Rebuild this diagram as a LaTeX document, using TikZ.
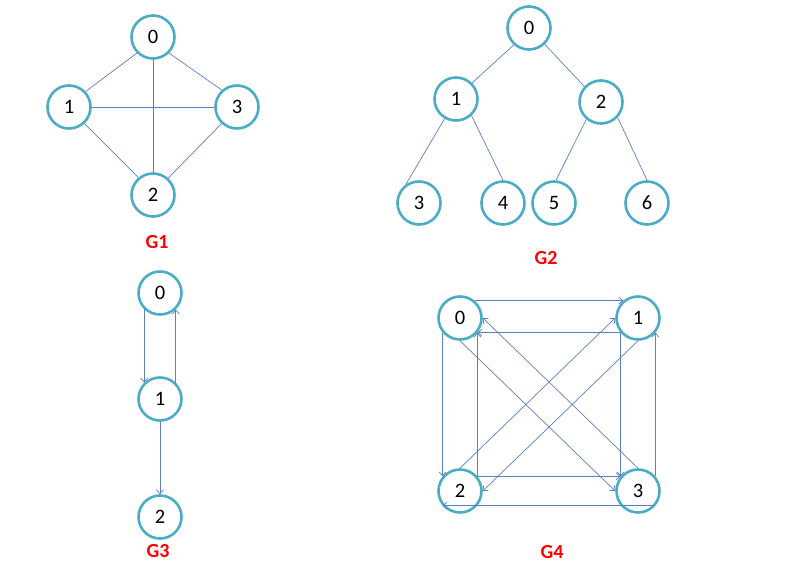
\documentclass[tikz,border=0pt]{standalone}
\usepackage{fontspec}
\setmainfont{Carlito}
\usetikzlibrary{arrows.meta}
\definecolor{ring}{HTML}{4BACC6}
\definecolor{edge}{HTML}{5B7FC0}
\begin{document}
\begin{tikzpicture}[x=1pt, y=-1pt, >={Straight Barb[length=4pt,width=7pt]},
	vert/.style={circle, draw=ring, line width=2.6pt, fill=white, minimum size=43pt, inner sep=0pt, font=\fontsize{20.5}{22}\selectfont},
	gname/.style={text=red, font=\fontsize{20}{22}\selectfont\bfseries},
	link/.style={draw=edge, line width=0.7pt}]
	\useasboundingbox (0,0) rectangle (806,578);
	% G1
	\node[vert] (a0) at (153,37) {0};
	\node[vert] (a1) at (69,107) {1};
	\node[vert] (a3) at (237,107) {3};
	\node[vert] (a2) at (153,195) {2};
	\node[gname] (ga) at (157,242) {G1};
	\draw[link] (a0.225) -- (a1.43);
	\draw[link] (a0.315) -- (a3.132);
	\draw[link] (a0.south) -- (a2.north);
	\draw[link] (a1.east) -- (a3.west);
	\draw[link] (a1.313) -- (a2.130);
	\draw[link] (a3.227) -- (a2.48);
	% G2
	\node[vert] (b0) at (529,28) {0};
	\node[vert] (b1) at (456,99) {1};
	\node[vert] (b2) at (601,102) {2};
	\node[vert] (b3) at (419,203) {3};
	\node[vert] (b4) at (503,203) {4};
	\node[vert] (b5) at (554,203) {5};
	\node[vert] (b6) at (647,203) {6};
	\node[gname] (gb) at (546,258) {G2};
	\draw[link] (b0.228) -- (b1.45);
	\draw[link] (b0.314) -- (b2.137);
	\draw[link] (b1.240) -- (b3.125);
	\draw[link] (b1.313) -- (b4.north);
	\draw[link] (b2.230) -- (b5.85);
	\draw[link] (b2.317) -- (b6.north);
	% G3
	\node[vert] (c0) at (160,293) {0};
	\node[vert] (c1) at (160,399) {1};
	\node[vert] (c2) at (160,517) {2};
	\node[gname] (gc) at (158,551) {G3};
	\draw[link, ->] (c0.226) -- (c1.134);
	\draw[link, ->] (c1.46) -- (c0.314);
	\draw[link, ->] (c1.south) -- (c2.north);
	% G4
	\node[vert] (d0) at (460,318) {0};
	\node[vert] (d1) at (638,318) {1};
	\node[vert] (d2) at (460,491) {2};
	\node[vert] (d3) at (638,491) {3};
	\node[gname] (gd) at (552,552) {G4};
	\draw[link, ->] (d0.50) -- (d1.130);
	\draw[link, ->] (d0.220) -- (d2.140);
	\draw[link, ->] (d3.320) -- (d2.220);
	\draw[link, ->] (d3.40) -- (d1.320);
	\draw[link, ->] (d1.220) -- (d0.320);
	\draw[link, ->] (d1.220) -- (d3.140);
	\draw[link, ->] (d2.40) -- (d0.320);
	\draw[link, ->] (d2.40) -- (d3.140);
	\draw[link, ->] (d0.south) -- (d3.west);
	\draw[link, ->] (d3.north) -- (d0.east);
	\draw[link, ->] (d2.north) -- (d1.west);
	\draw[link, ->] (d1.south) -- (d2.east);
\end{tikzpicture}
\end{document}
